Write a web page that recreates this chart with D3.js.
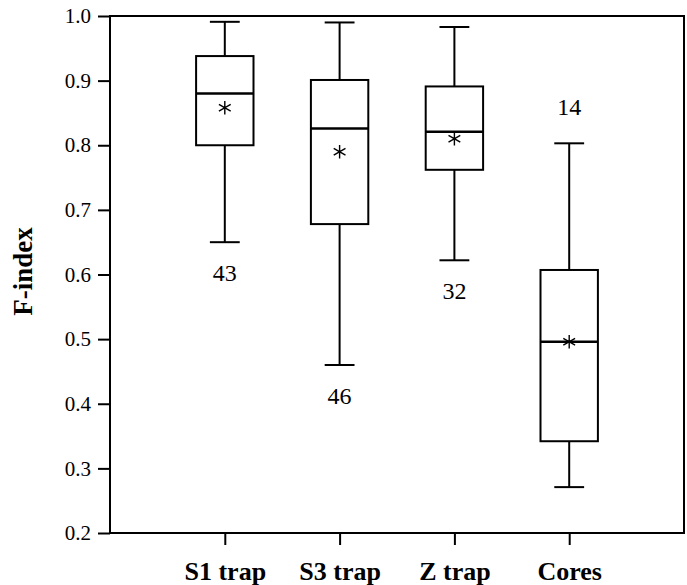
<!DOCTYPE html>
<html>
<head>
<meta charset="utf-8">
<script src="https://cdn.jsdelivr.net/npm/d3@7"></script>
<style>
  body { margin: 0; background: white; }
  text { font-family: "Liberation Serif", "DejaVu Serif", serif; fill: black; }
</style>
</head>
<body>
<div id="wykres"></div>
<script>
var groups = ["S1 trap", "S3 trap", "Z trap", "Cores"];
var whiskerLow  = [0.650, 0.460, 0.622, 0.271];
var q1          = [0.800, 0.678, 0.762, 0.342];
var medians     = [0.880, 0.826, 0.821, 0.496];
var q3          = [0.938, 0.901, 0.891, 0.607];
var whiskerHigh = [0.991, 0.990, 0.983, 0.803];
var means       = [0.858, 0.790, 0.810, 0.496];
var counts      = ["43", "46", "32", "14"];
var countAbove  = [false, false, false, true];
var yTicks      = [0.2, 0.3, 0.4, 0.5, 0.6, 0.7, 0.8, 0.9, 1.0];

var margin = { top: 16, right: 3, bottom: 52, left: 110 },
  width = 687 - margin.left - margin.right,
  height = 585 - margin.top - margin.bottom;

var svg = d3.select("#wykres")
  .append("svg")
  .attr("width", 687)
  .attr("height", 585)
  .append("g")
  .attr("transform", "translate(" + margin.left + "," + margin.top + ")");

var xscale = d3.scaleLinear().domain([0, 5]).range([0, width]);
var yscale = d3.scaleLinear().domain([0.2, 1.0]).range([height, 0]);

var boxW = xscale(0.5) - xscale(0);
var capW = xscale(0.26) - xscale(0);

// frame
svg.append("rect")
  .attr("x", 0).attr("y", 0)
  .attr("width", width).attr("height", height)
  .attr("fill", "none").attr("stroke", "black").attr("stroke-width", 2);

var yAxis = svg.append("g")
  .call(d3.axisLeft(yscale).tickValues(yTicks).tickFormat(d3.format(".1f")).tickSize(12).tickPadding(7));
yAxis.select(".domain").remove();
yAxis.selectAll("line").attr("stroke-width", 2);
yAxis.selectAll("text").style("font-size", "21px").style("font-family", "Liberation Serif, serif");

var xAxis = svg.append("g")
  .attr("transform", "translate(0," + height + ")")
  .call(d3.axisBottom(xscale).tickValues([1, 2, 3, 4]).tickFormat(function (d) { return groups[d - 1]; }).tickSize(12).tickPadding(17));
xAxis.select(".domain").remove();
xAxis.selectAll("line").attr("stroke-width", 2);
xAxis.selectAll("text").style("font-size", "26px").style("font-weight", "bold").style("font-family", "Liberation Serif, serif");

svg.append("text")
  .attr("transform", "translate(" + (-78) + "," + (height / 2 - 3) + ")rotate(-90)")
  .attr("text-anchor", "middle")
  .style("font-size", "27px")
  .style("font-weight", "bold")
  .text("F-index");

var box = svg.selectAll(".box")
  .data(groups)
  .enter().append("g")
  .attr("class", "box")
  .attr("transform", function (d, i) { return "translate(" + xscale(i + 1) + ",0)"; });

// whiskers
box.append("line")
  .attr("x1", 0).attr("x2", 0)
  .attr("y1", function (d, i) { return yscale(whiskerHigh[i]); })
  .attr("y2", function (d, i) { return yscale(q3[i]); })
  .attr("stroke", "black").attr("stroke-width", 2);
box.append("line")
  .attr("x1", 0).attr("x2", 0)
  .attr("y1", function (d, i) { return yscale(q1[i]); })
  .attr("y2", function (d, i) { return yscale(whiskerLow[i]); })
  .attr("stroke", "black").attr("stroke-width", 2);
box.append("line")
  .attr("x1", -capW / 2).attr("x2", capW / 2)
  .attr("y1", function (d, i) { return yscale(whiskerHigh[i]); })
  .attr("y2", function (d, i) { return yscale(whiskerHigh[i]); })
  .attr("stroke", "black").attr("stroke-width", 2);
box.append("line")
  .attr("x1", -capW / 2).attr("x2", capW / 2)
  .attr("y1", function (d, i) { return yscale(whiskerLow[i]); })
  .attr("y2", function (d, i) { return yscale(whiskerLow[i]); })
  .attr("stroke", "black").attr("stroke-width", 2);

box.append("rect")
  .attr("x", -boxW / 2)
  .attr("width", boxW)
  .attr("y", function (d, i) { return yscale(q3[i]); })
  .attr("height", function (d, i) { return yscale(q1[i]) - yscale(q3[i]); })
  .attr("fill", "none").attr("stroke", "black").attr("stroke-width", 2);

box.append("line")
  .attr("x1", -boxW / 2).attr("x2", boxW / 2)
  .attr("y1", function (d, i) { return yscale(medians[i]); })
  .attr("y2", function (d, i) { return yscale(medians[i]); })
  .attr("stroke", "black").attr("stroke-width", 2.5);

box.append("path")
  .attr("transform", function (d, i) { return "translate(0," + yscale(means[i]) + ")"; })
  .attr("d", d3.symbol().type(d3.symbolAsterisk).size(130))
  .attr("fill", "none").attr("stroke", "black").attr("stroke-width", 1.4);

box.append("text")
  .attr("text-anchor", "middle")
  .attr("y", function (d, i) {
    return countAbove[i] ? yscale(whiskerHigh[i]) - 28 : yscale(whiskerLow[i]) + 39;
  })
  .style("font-size", "24px")
  .text(function (d, i) { return counts[i]; });
</script>
</body>
</html>
